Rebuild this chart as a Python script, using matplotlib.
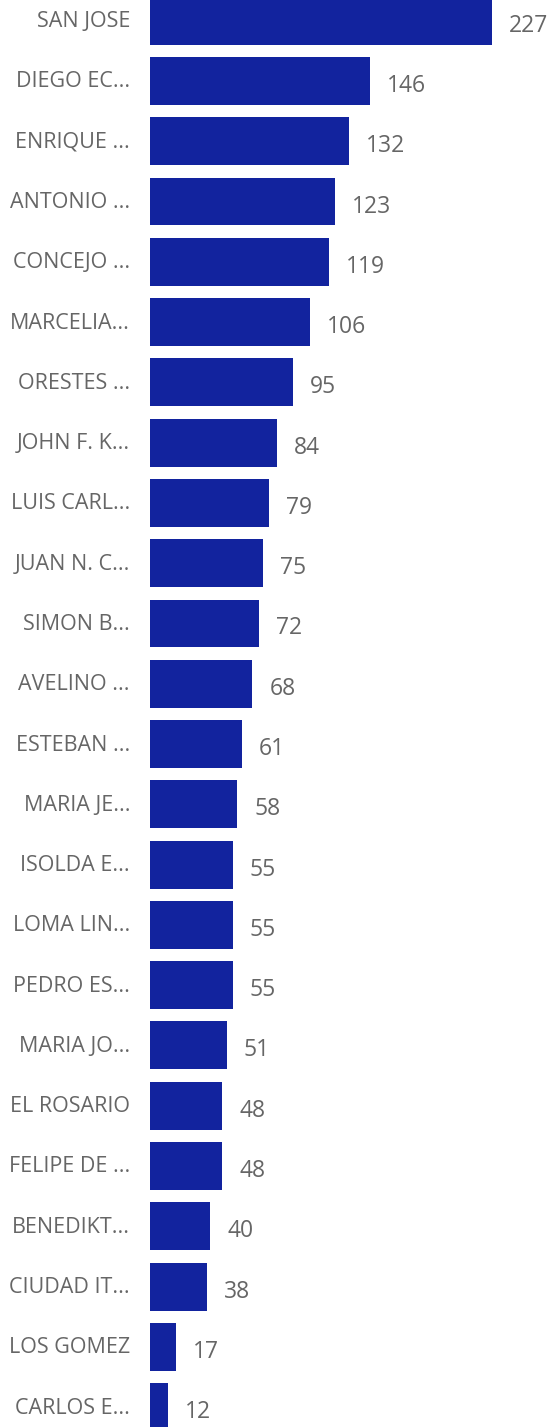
import matplotlib
matplotlib.use("Agg")
import matplotlib.pyplot as plt

# outlet names (truncated as shown on the axis) and their counts
names = ["SAN JOSE", "DIEGO EC...", "ENRIQUE ...", "ANTONIO ...", "CONCEJO ...",
         "MARCELIA...", "ORESTES ...", "JOHN F. K...", "LUIS CARL...", "JUAN N. C...",
         "SIMON B...", "AVELINO ...", "ESTEBAN ...", "MARIA JE...", "ISOLDA E...",
         "LOMA LIN...", "PEDRO ES...", "MARIA JO...", "EL ROSARIO", "FELIPE DE ...",
         "BENEDIKT...", "CIUDAD IT...", "LOS GOMEZ", "CARLOS E..."]
counts = [227, 146, 132, 123, 119, 106, 95, 84, 79, 75, 72, 68, 61, 58, 55,
          55, 55, 51, 48, 48, 40, 38, 17, 12]

BAR = "#12239E"
TEXT = "#666666"
plt.rcParams["font.family"] = ["Open Sans", "DejaVu Sans"]


def main():
    fig = plt.figure(figsize=(5.52, 14.27), dpi=100)
    ax = fig.add_axes([150 / 552, 0, 402 / 552, 1])

    pos = list(range(len(names)))
    ax.barh(pos, counts, height=0.795, color=BAR)
    ax.set_xlim(0, 402 / 1.507)
    ax.set_ylim(23.33, -0.343)

    for y, v in zip(pos, counts):
        ax.annotate(str(v), (v, y), xytext=(17, -5), textcoords="offset pixels",
                    ha="left", va="center", fontsize=16.5, color=TEXT)
        ax.annotate(names[y], (0, y), xytext=(-20, -1), textcoords="offset pixels",
                    ha="right", va="center", fontsize=15.5, color=TEXT,
                    annotation_clip=False)

    ax.set_xticks([])
    ax.set_yticks([])
    for s in ax.spines.values():
        s.set_visible(False)

    fig.savefig("out.png", dpi=100)


if __name__ == "__main__":
    main()
